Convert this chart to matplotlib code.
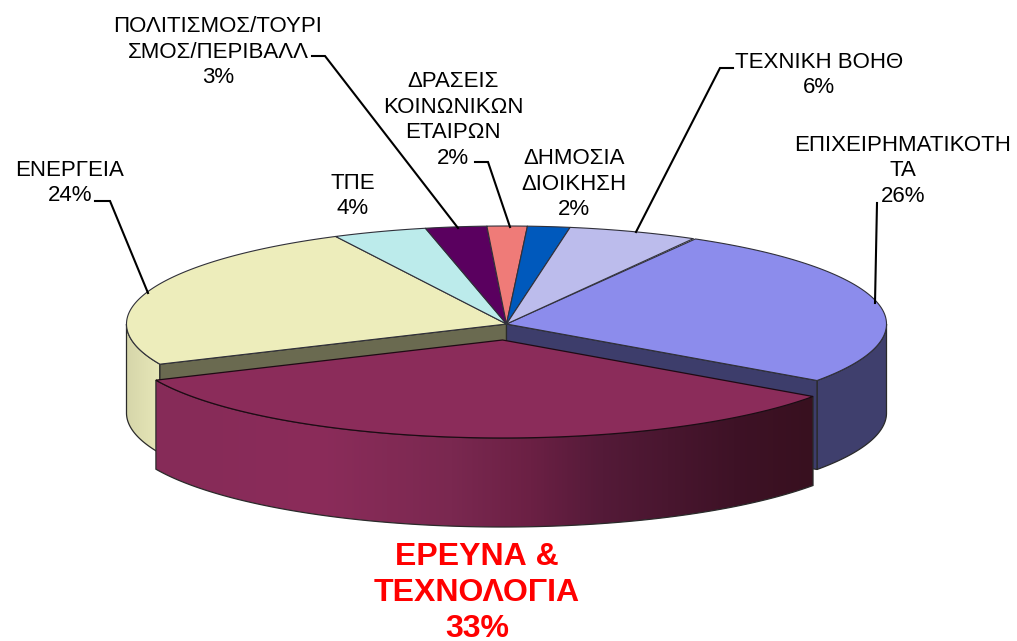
import numpy as np
import matplotlib
matplotlib.use("Agg")
import matplotlib.pyplot as plt
from matplotlib.patches import Polygon
from matplotlib.colors import LinearSegmentedColormap

plt.rcParams['font.family'] = ['Liberation Sans', 'DejaVu Sans']

# clockwise from the Business / Technical boundary
categories = ["ΕΠΙΧΕΙΡΗΜΑΤΙΚΟΤΗ\nΤΑ", "ΕΡΕΥΝΑ &\nΤΕΧΝΟΛΟΓΙΑ", "ΕΝΕΡΓΕΙΑ", "ΤΠΕ",
              "ΠΟΛΙΤΙΣΜΟΣ/ΤΟΥΡΙ\nΣΜΟΣ/ΠΕΡΙΒΑΛΛ", "ΔΡΑΣΕΙΣ\nΚΟΙΝΩΝΙΚΩΝ\nΕΤΑΙΡΩΝ",
              "ΔΗΜΟΣΙΑ\nΔΙΟΙΚΗΣΗ", "ΤΕΧΝΙΚΗ ΒΟΗΘ"]
shares = [26.5, 33.5, 24.3, 4.0, 2.6, 1.7, 1.8, 5.5]
percent_labels = ["26%", "33%", "24%", "4%", "3%", "2%", "2%", "6%"]
top_colors = ["#8C8CEC", "#8B2C5A", "#EDEDBB", "#BCEBEB", "#5A005F", "#EF7B78", "#0059BC", "#BCBCEC"]
wall_colors = ["#3D3D6B", "#8B2C5A", "#6A6A50", "#BCEBEB", "#5A005F", "#EF7B78", "#0059BC", "#BCBCEC"]
label_xy = [(903, 171), (477, 593), (70, 183), (353, 196), (218, 52), (453, 120), (574, 184), (819, 75)]
leaders = [[(877, 203), (875, 303)], None, [(95, 201), (110, 201), (148, 293)], None,
           [(312, 56), (325, 56), (458, 228)], [(475, 162), (488, 162), (510, 227)], None,
           [(733, 68), (720, 68), (636, 232)]]
START_ANGLE = 60.2
CX, CY, RX, RY, DEPTH = 506.5, 324, 380, 98, 89
EXPLODE_X, EXPLODE_Y = -4, 16
EDGE = "#2A2A2A"

fig = plt.figure(figsize=(10.17, 6.41), dpi=100)
ax = fig.add_axes([0, 0, 1, 1])
ax.set_xlim(0, 1017)
ax.set_ylim(641, 0)
ax.axis("off")

ends = START_ANGLE - np.cumsum(shares) * 3.6
starts = np.r_[START_ANGLE, ends[:-1]]


def arc(a0, a1, cx=CX, cy=CY, dz=0):
    t = np.radians(np.linspace(a0, a1, 200))
    return np.c_[cx + RX * np.cos(t), cy - RY * np.sin(t) + dz]


def sector(i, cx=CX, cy=CY):
    return np.vstack([[cx, cy], arc(starts[i], ends[i], cx, cy)])


def side(a0, a1, cx=CX, cy=CY):
    return np.vstack([arc(a0, a1, cx, cy), arc(a1, a0, cx, cy, dz=DEPTH)])


def gradient(poly, stops, x0, x1, y0, y1, z):
    cmap = LinearSegmentedColormap.from_list("g", stops)
    im = ax.imshow(np.linspace(0, 1, 512)[None, :], cmap=cmap, aspect="auto",
                   extent=(x0, x1, y1, y0), zorder=z)
    clip = Polygon(poly, closed=True, transform=ax.transData, fc="none", ec="none")
    ax.add_patch(clip)
    im.set_clip_path(clip)
    ax.add_patch(Polygon(poly, closed=True, fc="none", ec=EDGE, lw=0.9, zorder=z + 0.1))


BUS, RND, ENE = 0, 1, 2

# outer walls of the flat part of the pie
gradient(side(0, ends[BUS]), ["#3D3D6B", "#40406E"], CX, CX + RX, CY, CY + DEPTH + RY, 1)
gradient(side(180, 360 + starts[ENE]), ["#D6D6AA", "#EBEBBB", "#EDEDBB"],
         CX - RX, CX - RX + 80, CY, CY + DEPTH + RY, 1)

# inner walls exposed by the exploded slice
for i, a in ((ENE, starts[ENE]), (BUS, ends[BUS])):
    p = arc(a, a)[0]
    wall = [[CX, CY], p, p + [0, DEPTH], [CX, CY + DEPTH]]
    ax.add_patch(Polygon(wall, closed=True, fc=wall_colors[i], ec=EDGE, lw=0.9, zorder=2))

# top faces
for i in range(len(shares)):
    if i != RND:
        ax.add_patch(Polygon(sector(i), closed=True, fc=top_colors[i], ec="#30303A", lw=0.8,
                             joinstyle="round", zorder=3))

# exploded slice
cx2, cy2 = CX + EXPLODE_X, CY + EXPLODE_Y
x_left = arc(ends[RND], ends[RND], cx2, cy2)[0, 0]
x_right = arc(starts[RND], starts[RND], cx2, cy2)[0, 0]
gradient(side(starts[RND], ends[RND], cx2, cy2),
         [(0, "#862B58"), (0.25, "#8B2C5A"), (0.45, "#7A2850"), (0.57, "#6B2044"),
          (0.68, "#541A38"), (0.88, "#3E1226"), (1, "#38101F")],
         x_left, x_right, cy2, cy2 + DEPTH + RY, 4)
ax.add_patch(Polygon(sector(RND, cx2, cy2), closed=True, fc=top_colors[RND], ec="#1E0A14", lw=0.9, zorder=5))

# labels and leader lines
for i, name in enumerate(categories):
    bold = i == RND
    ax.text(*label_xy[i], f"{name}\n{percent_labels[i]}", ha="center", va="center",
            ma="center", fontsize=23 if bold else 16, linespacing=1.24 if bold else 1.3,
            color="#FF0000" if bold else "#000000", fontweight="bold" if bold else "normal", zorder=7)
    if leaders[i] is not None:
        xs, ys = zip(*leaders[i])
        ax.plot(xs, ys, color="black", lw=1.5, zorder=6, solid_joinstyle="miter")

fig.savefig("out.png", dpi=100)
